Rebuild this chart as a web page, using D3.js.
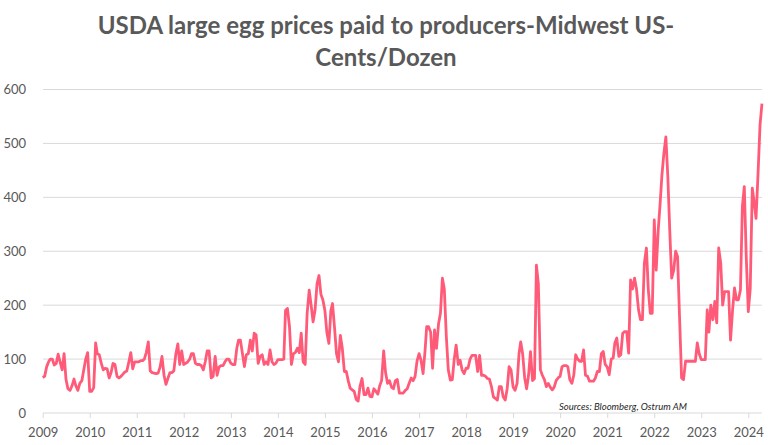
<!DOCTYPE html>
<html>
<head>
<meta charset="utf-8">
<script src="https://cdn.jsdelivr.net/npm/d3@7"></script>
<style>
  body { margin: 0; background: #fff; }
  svg { display: block; font-family: Lato, "Open Sans", sans-serif; }
</style>
</head>
<body>
<svg id="chart" width="768" height="445"></svg>
<script>
// Title and source
const titleLines = ["USDA large egg prices paid to producers-Midwest US-", "Cents/Dozen"];
const sourceNote = "Sources: Bloomberg, Ostrum AM";

// Axis ticks
const yTicks = [0, 100, 200, 300, 400, 500, 600];
const years = [2009, 2010, 2011, 2012, 2013, 2014, 2015, 2016, 2017, 2018, 2019, 2020, 2021, 2022, 2023, 2024];

// Prices, cents/dozen, read twice a month (1st and 16th)
const p2009 = [66, 68, 86, 95, 100, 100, 89, 92, 109, 95, 80, 110, 62, 45, 42, 50, 63, 50, 42, 55, 60, 80, 100, 112];
const p2010 = [40, 40, 47, 130, 110, 108, 92, 80, 83, 82, 65, 75, 92, 90, 68, 65, 68, 72, 76, 78, 95, 112, 82, 95];
const p2011 = [95, 95, 97, 97, 100, 112, 132, 78, 75, 74, 73, 74, 85, 105, 70, 53, 65, 75, 75, 78, 110, 128, 90, 115];
const p2012 = [90, 92, 95, 100, 110, 110, 92, 90, 90, 88, 80, 95, 115, 115, 65, 68, 105, 70, 85, 88, 88, 95, 100, 100];
const p2013 = [92, 90, 90, 120, 135, 135, 110, 86, 108, 110, 135, 115, 148, 145, 92, 105, 108, 90, 95, 90, 117, 95, 90, 92];
const p2014 = [99, 99, 99, 100, 190, 194, 160, 90, 110, 112, 120, 112, 148, 95, 90, 185, 228, 200, 169, 190, 240, 255, 220, 210];
const p2015 = [190, 150, 129, 190, 203, 160, 110, 95, 144, 120, 77, 77, 60, 46, 43, 40, 25, 22, 50, 64, 34, 34, 46, 31];
const p2016 = [30, 45, 40, 35, 50, 60, 115, 75, 55, 60, 48, 45, 60, 62, 37, 37, 37, 42, 45, 55, 65, 60, 68, 96];
const p2017 = [110, 98, 73, 114, 160, 160, 150, 83, 154, 120, 165, 185, 250, 230, 140, 80, 61, 62, 100, 126, 90, 98, 80, 73];
const p2018 = [83, 83, 100, 107, 107, 107, 77, 107, 70, 70, 68, 64, 63, 50, 30, 27, 24, 49, 49, 30, 24, 45, 86, 80];
const p2019 = [48, 42, 55, 110, 132, 110, 65, 45, 70, 114, 60, 64, 274, 240, 80, 70, 62, 49, 55, 48, 43, 48, 60, 65];
const p2020 = [68, 86, 88, 88, 86, 62, 55, 70, 108, 100, 96, 96, 117, 70, 68, 59, 59, 59, 65, 77, 77, 110, 114, 90];
const p2021 = [85, 71, 100, 102, 130, 139, 105, 108, 148, 151, 151, 111, 247, 230, 250, 230, 191, 173, 173, 278, 306, 228, 185, 185];
const p2022 = [358, 265, 340, 390, 440, 480, 512, 440, 340, 250, 265, 300, 290, 180, 65, 62, 96, 96, 96, 96, 96, 96, 130, 110];
const p2023 = [99, 99, 99, 191, 150, 200, 173, 207, 167, 306, 278, 200, 225, 225, 225, 135, 191, 232, 210, 210, 228, 383, 420, 290];
const p2024 = [188, 230, 417, 390, 361, 440, 534, 574];
const pricesByYear = [p2009, p2010, p2011, p2012, p2013, p2014, p2015, p2016, p2017, p2018, p2019, p2020, p2021, p2022, p2023, p2024];

const series = [];
years.forEach((yr, k) => {
  pricesByYear[k].forEach((v, i) => {
    series.push({ date: new Date(yr, Math.floor(i / 2), i % 2 ? 16 : 1), value: v });
  });
});

const width = 768, height = 445;
const margin = { top: 89.5, right: 6, bottom: 32, left: 43 };
const svg = d3.select("#chart");

const x = d3.scaleTime()
  .domain([new Date(2009, 0, 1), new Date(2024, 0, 1)])
  .range([42.7, 748.3]);
const xEnd = x(series[series.length - 1].date);

const y = d3.scaleLinear()
  .domain([0, 600])
  .range([height - margin.bottom, margin.top]);

// Title
svg.append("g")
  .selectAll("text")
  .data(titleLines)
  .enter().append("text")
  .attr("x", 386)
  .attr("y", (d, i) => 34 + i * 32)
  .attr("text-anchor", "middle")
  .attr("font-size", "24px")
  .attr("font-weight", "bold")
  .attr("fill", "#595959")
  .text(d => d);

// Gridlines
svg.append("g")
  .selectAll("line")
  .data(yTicks.filter(d => d > 0))
  .enter().append("line")
  .attr("x1", margin.left)
  .attr("x2", xEnd)
  .attr("y1", d => y(d))
  .attr("y2", d => y(d))
  .attr("stroke", "#d9d9d9")
  .attr("stroke-width", 1);

// Y labels
svg.append("g")
  .selectAll("text")
  .data(yTicks)
  .enter().append("text")
  .attr("x", 26)
  .attr("y", d => y(d))
  .attr("dy", "0.35em")
  .attr("text-anchor", "end")
  .attr("font-size", "13px")
  .attr("fill", "#595959")
  .text(d => d);

// X axis
const xAxis = d3.axisBottom(x)
  .tickValues(years.map(yr => new Date(yr, 0, 1)))
  .tickFormat(d3.timeFormat("%Y"))
  .tickSize(5)
  .tickPadding(10);

const gx = svg.append("g")
  .attr("transform", `translate(0,${y(0)})`)
  .call(xAxis);
gx.select(".domain").remove();
gx.selectAll(".tick line").attr("stroke", "#d9d9d9");
gx.selectAll(".tick text")
  .attr("font-family", "Lato, 'Open Sans', sans-serif")
  .attr("font-size", "13px")
  .attr("fill", "#595959");
gx.append("line")
  .attr("x1", margin.left)
  .attr("x2", xEnd)
  .attr("stroke", "#d9d9d9")
  .attr("stroke-width", 1);

// Price line
const line = d3.line()
  .x(d => x(d.date))
  .y(d => y(d.value));

svg.append("path")
  .datum(series)
  .attr("fill", "none")
  .attr("stroke", "#ff5b79")
  .attr("stroke-width", 2.8)
  .attr("stroke-linejoin", "round")
  .attr("d", line);

// Source note
svg.append("text")
  .attr("x", 559)
  .attr("y", 410)
  .attr("font-size", "9.5px")
  .attr("font-style", "italic")
  .attr("fill", "#262626")
  .text(sourceNote);
</script>
</body>
</html>
